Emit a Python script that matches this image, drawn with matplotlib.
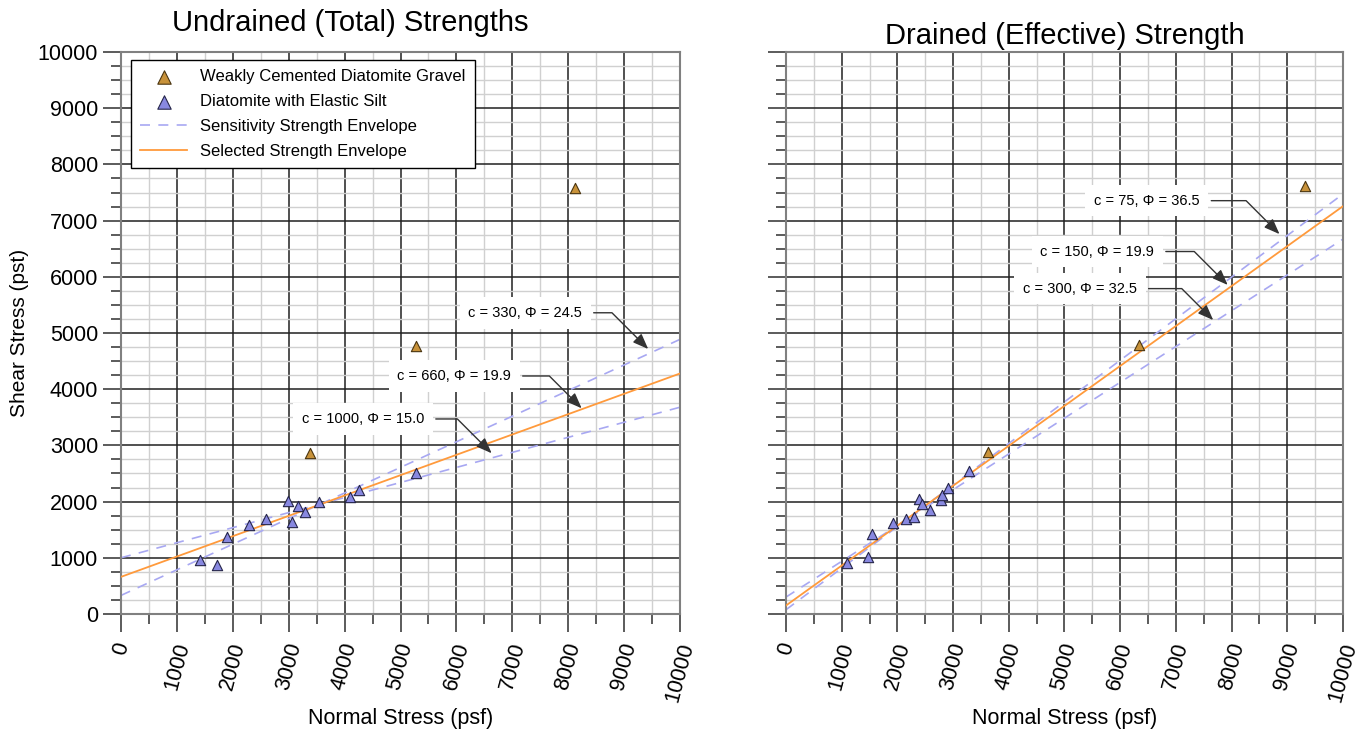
import matplotlib
matplotlib.use("Agg")
import matplotlib.pyplot as plt
import numpy as np

plt.rcParams['font.family'] = ['Liberation Sans', 'DejaVu Sans']

# ---- data ----
# Undrained (total)
und_gravel_x = [3380, 5280, 8120]
und_gravel_y = [2860, 4770, 7580]
und_silt_x = [1410, 1710, 1900, 2290, 2600, 2990, 3060, 3160, 3300, 3540, 4100, 4260, 5280]
und_silt_y = [960, 870, 1370, 1590, 1690, 2010, 1640, 1920, 1820, 2000, 2080, 2210, 2510]
und_c = [330, 1000]
und_phi = [24.5, 15.0]
und_sel_c = 660
und_sel_phi = 19.9
und_labels = ["c = 330, Φ = 24.5", "c = 660, Φ = 19.9", "c = 1000, Φ = 15.0"]
und_label_xy = [(7230, 5360), (5960, 4235), (4330, 3470)]
und_arrow_xy = [(9430, 4715), (8240, 3660), (6630, 2860)]

# Drained (effective)
dr_gravel_x = [3630, 6340, 9320]
dr_gravel_y = [2880, 4790, 7620]
dr_silt_x = [1100, 1480, 1540, 1930, 2150, 2300, 2390, 2450, 2590, 2790, 2810, 2900, 3290]
dr_silt_y = [910, 1010, 1420, 1625, 1685, 1720, 2050, 1960, 1850, 2030, 2120, 2250, 2545]
dr_c = [75, 300]
dr_phi = [36.5, 32.5]
dr_sel_c = 150
dr_sel_phi = 35.4
dr_labels = ["c = 75, Φ = 36.5", "c = 150, Φ = 19.9", "c = 300, Φ = 32.5"]
dr_label_xy = [(6480, 7355), (5590, 6450), (5280, 5790)]
dr_arrow_xy = [(8860, 6760), (7930, 5855), (7670, 5230)]

gravel_col = '#c8923a'
silt_col = '#8888e0'
dash_col = '#a8a8f2'
sel_col = '#ff9a3c'

xs = np.array([0, 10000])

fig = plt.figure(figsize=(13.7, 7.33), dpi=100)
ax1 = fig.add_axes([0.0883, 0.1624, 0.4081, 0.7666])
ax2 = fig.add_axes([0.5737, 0.1624, 0.4066, 0.7666])


def draw(ax, gx, gy, sx, sy, cs, phis, csel, phisel, labels, lxy, axy):
    ax.set_xlim(0, 10000)
    ax.set_ylim(0, 10000)
    ax.set_xticks(np.arange(0, 10001, 1000))
    ax.set_xticks(np.arange(0, 10001, 500), minor=True)
    ax.set_yticks(np.arange(0, 10001, 1000))
    ax.set_yticks(np.arange(0, 10001, 250), minor=True)
    ax.grid(which='minor', color='#d0d0d0', lw=1.0, zorder=0)
    ax.grid(which='major', color='#202020', lw=1.1, zorder=0)
    ax.set_axisbelow(True)
    ax.tick_params(which='major', direction='out', length=13, width=1.2, color='#404040', labelsize=15.5)
    ax.tick_params(axis='x', which='major', pad=6)
    ax.tick_params(which='minor', direction='out', length=7, width=1.2, color='#404040')
    for s in ax.spines.values():
        s.set_color('#808080')
        s.set_linewidth(1.5)
    plt.setp(ax.get_xticklabels(), rotation=75)

    for i, (c, phi) in enumerate(zip(cs, phis)):
        ax.plot(xs, c + xs * np.tan(np.radians(phi)), color=dash_col, lw=1.2,
                ls=(0, (6, 5)), zorder=2, label='Sensitivity Strength Envelope' if i == 0 else None)
    ax.plot(xs, csel + xs * np.tan(np.radians(phisel)), color=sel_col, lw=1.3, zorder=3,
            label='Selected Strength Envelope')
    ax.scatter(gx, gy, marker='^', s=55, color=gravel_col, edgecolor='#4a3510', lw=0.8, zorder=4,
               label='Weakly Cemented Diatomite Gravel')
    ax.scatter(sx, sy, marker='^', s=55, color=silt_col, edgecolor='#25254a', lw=0.8, zorder=4,
               label='Diatomite with Elastic Silt')

    for txt, p, q in zip(labels, lxy, axy):
        ax.annotate(txt, xy=q, xytext=p, ha='center', va='center', fontsize=10.5, zorder=5,
                    bbox=dict(boxstyle='square,pad=0.6', fc='white', ec='none'),
                    arrowprops=dict(arrowstyle='-|>,head_length=0.9,head_width=0.35',
                                    color='#333333', lw=1.0, shrinkA=2, shrinkB=0,
                                    connectionstyle='angle,angleA=0,angleB=-45,rad=0'))

    ax.set_xlabel('Normal Stress (psf)', fontsize=15.5)
    ax.xaxis.set_label_coords(0.5, -0.168)


draw(ax1, und_gravel_x, und_gravel_y, und_silt_x, und_silt_y, und_c, und_phi,
     und_sel_c, und_sel_phi, und_labels, und_label_xy, und_arrow_xy)
draw(ax2, dr_gravel_x, dr_gravel_y, dr_silt_x, dr_silt_y, dr_c, dr_phi,
     dr_sel_c, dr_sel_phi, dr_labels, dr_label_xy, dr_arrow_xy)

ax1.set_title('Undrained (Total) Strengths', fontsize=21, pad=15, x=0.41)
ax2.set_title('Drained (Effective) Strength', fontsize=21, pad=6, x=0.5)
ax1.set_ylabel('Shear Stress (pst)', fontsize=15, labelpad=6)
ax2.tick_params(axis='y', labelleft=False)

h, l = ax1.get_legend_handles_labels()
order = [2, 3, 0, 1]
leg = ax1.legend([h[i] for i in order], [l[i] for i in order], loc='upper left',
                 bbox_to_anchor=(0.018, 0.986), fontsize=12, fancybox=False,
                 framealpha=1, edgecolor='black', borderaxespad=0, handlelength=2.8,
                 labelspacing=0.6, borderpad=0.55, markerscale=1.3)
leg.get_frame().set_linewidth(1.0)

fig.savefig('out.png', dpi=100)
